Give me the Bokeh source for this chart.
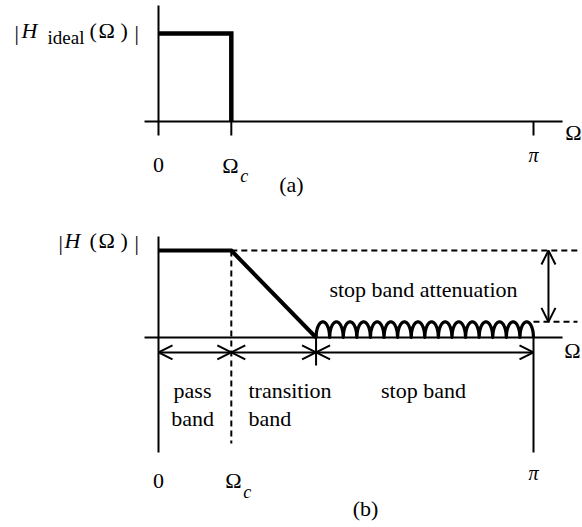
import numpy as np
from bokeh.plotting import figure
from bokeh.models import Arrow, OpenHead, Range1d
from bokeh.core.properties import value
from bokeh.embed import file_html
from bokeh.resources import INLINE

# Frequency landmarks (normalised frequency, rad/sample)
omega_c = 0.61          # cut-off frequency
omega_s = 1.32          # start of stop band
omega_pi = np.pi        # Nyquist
passband_gain = 1.0     # |H| in the pass band
stopband_level = 0.18   # peak ripple level in the stop band
n_ripples = 16          # number of stop-band lobes

# Segment labels along the frequency axis
band_names = ["pass\nband", "transition\nband", "stop band"]

FONT = "Liberation Serif"

# One canvas, two magnitude scales: "default" for (a), "b" for (b)
p = figure(width=582, height=527, output_backend="svg", toolbar_location=None,
           x_range=Range1d(-1.3236, 3.5521), y_range=Range1d(-4.614, 1.375),
           x_axis_type=None, y_axis_type=None, min_border=0)
p.extra_y_ranges = {"b": Range1d(-2.184, 3.874)}
p.grid.visible = False
p.outline_line_color = None


def seg(xs, ys, rng="default", width=2, dash="solid", join="miter"):
    p.line(xs, ys, line_color="black", line_width=width, line_dash=dash,
           line_join=join, y_range_name=rng)


def label(x, y, text, rng="default", size="22px", style="normal", align="center",
          baseline="middle", dx=0):
    p.text(x=[x], y=[y], text=[text], text_font=value(FONT), text_font_size=size,
           text_font_style=style, text_align=align, text_baseline=baseline,
           x_offset=dx, text_color="black", y_range_name=rng)


def darrow(x0, y0, x1, y1, rng):
    p.add_layout(Arrow(x_start=x0, y_start=y0, x_end=x1, y_end=y1, line_width=2,
                       start=OpenHead(size=14, line_width=2),
                       end=OpenHead(size=14, line_width=2), y_range_name=rng))


def magnitude_label(rng, yb, parts):
    for text, dx, size, style, dy in parts:
        label(0, yb + dy, text, rng=rng, size=size, style=style, align="left",
              baseline="alphabetic", dx=dx)


# ---------------- (a) ideal low-pass ----------------
seg([-0.117, 3.385], [0, 0])
seg([0, 0], [-0.159, 1.318])
for xt in (omega_c, omega_pi):
    seg([xt, xt], [0, -0.159])
seg([0, omega_c, omega_c], [passband_gain, passband_gain, 0], width=4.5)

label(0, -0.5, "0")
label(omega_c, -0.5, "Ω", dx=-1)
label(omega_c, -0.62, "c", size="18px", style="italic", dx=13)
label(omega_pi, -0.386, "π", size="20px", style="italic")
label(3.477, -0.125, "Ω")
label(1.114, -0.716, "(a)")
magnitude_label("default", 1.034, [
    ("|", -144, "22px", "normal", -0.02),
    ("H", -137, "22px", "italic", 0),
    ("ideal", -111, "19px", "normal", -0.075),
    ("(", -69, "22px", "normal", 0),
    ("Ω", -60, "22px", "normal", 0),
    (")", -38, "22px", "normal", 0),
    ("|", -24, "22px", "normal", -0.02),
])

# ---------------- (b) practical low-pass ----------------
seg([-0.117, 3.385], [0, 0], rng="b")
seg([0, 0], [-1.322, 1.161], rng="b")
seg([0, omega_c, omega_s], [passband_gain, passband_gain, 0], rng="b", width=4)

# stop-band ripples (half-elliptic lobes)
edges = np.linspace(omega_s, omega_pi, n_ripples + 1)
t = np.linspace(-1, 1, 41)
rx, ry = [], []
for a, b in zip(edges[:-1], edges[1:]):
    rx.extend(a + (t + 1) / 2 * (b - a))
    ry.extend(stopband_level * np.sqrt(1 - t ** 2))
seg(rx, ry, rng="b", width=3.2, join="round")

# guide lines
seg([omega_c, omega_c], [passband_gain, -1.218], rng="b", dash="6 4")
seg([omega_c, 3.51], [passband_gain, passband_gain], rng="b", dash="6 4")
seg([omega_pi, 3.51], [stopband_level, stopband_level], rng="b", dash="6 4")
seg([omega_s, omega_s], [0, -0.322], rng="b")
seg([omega_pi, omega_pi], [0, -1.322], rng="b")

# band extents and attenuation
for a, b in [(0, omega_c), (omega_c, omega_s), (omega_s, omega_pi)]:
    darrow(a, -0.172, b, -0.172, "b")
darrow(3.267, passband_gain, 3.267, stopband_level, "b")

pass_lines = band_names[0].split("\n")
trans_lines = band_names[1].split("\n")
label(0.285, -0.609, pass_lines[0], rng="b")
label(0.285, -0.931, pass_lines[1], rng="b")
label(0.754, -0.609, trans_lines[0], rng="b", align="left")
label(0.754, -0.931, trans_lines[1], rng="b", align="left")
label(2.22, -0.609, band_names[2], rng="b")
label(2.22, 0.552, "stop band attenuation", rng="b")

label(0, -1.644, "0", rng="b")
label(omega_c, -1.644, "Ω", rng="b", dx=2)
label(omega_c, -1.78, "c", rng="b", size="18px", style="italic", dx=16)
label(omega_pi, -1.563, "π", rng="b", size="20px", style="italic")
label(3.468, -0.149, "Ω", rng="b")
label(1.734, -1.966, "(b)", rng="b")
magnitude_label("b", 1.115, [
    ("|", -100, "22px", "normal", -0.02),
    ("H", -94, "22px", "italic", 0),
    ("(", -69, "22px", "normal", 0),
    ("Ω", -60, "22px", "normal", 0),
    (")", -38, "22px", "normal", 0),
    ("|", -24, "22px", "normal", -0.02),
])

open("out.html", "w").write(file_html(p, INLINE))
